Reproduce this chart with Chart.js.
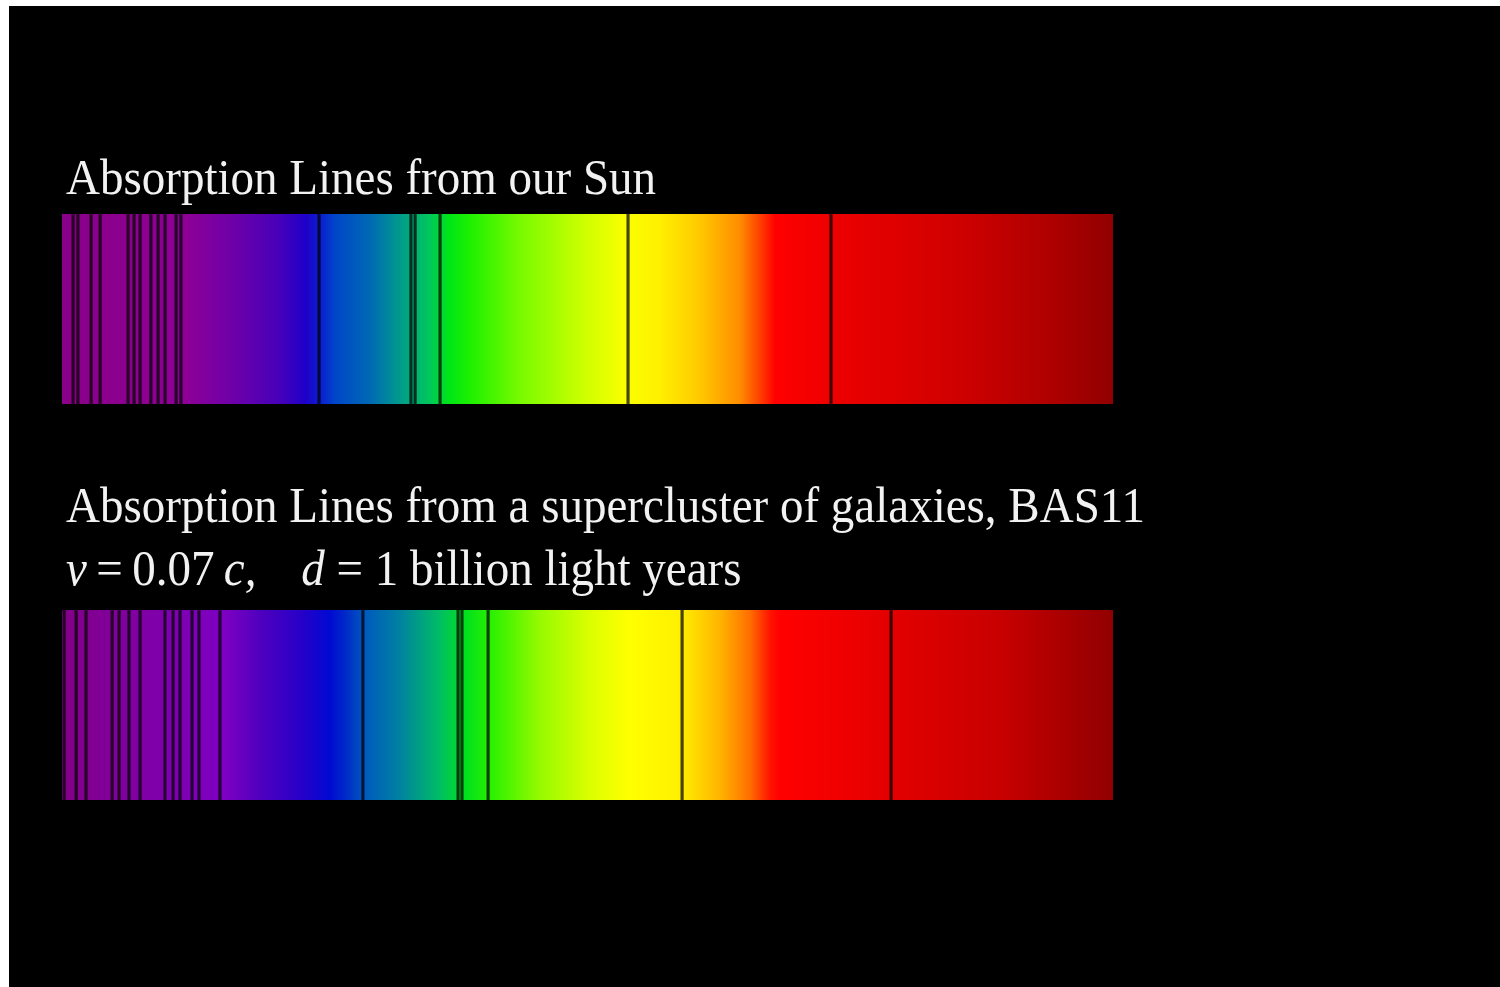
<!DOCTYPE html>
<html>
<head>
<meta charset="utf-8">
<script src="https://cdn.jsdelivr.net/npm/chart.js@4.4.1/dist/chart.umd.min.js"></script>
<style>
  html, body { margin: 0; padding: 0; background: #000; width: 1500px; height: 987px; overflow: hidden; }
  .edge { position: absolute; background: #fff; }
  .label { position: absolute; left: 66px; font-family: "Liberation Serif", "Times New Roman", serif;
           font-size: 47px; line-height: 47px; color: #f2f2f2; white-space: pre;
           transform: scaleY(1.07); transform-origin: 0 39px; }
  .spec { position: absolute; left: 62px; width: 1051px; }
</style>
</head>
<body>
<div class="edge" style="left:0;top:0;width:1500px;height:6px"></div>
<div class="edge" style="left:0;top:0;width:9px;height:987px"></div>

<div class="label" style="top:155px">Absorption Lines from our Sun</div>
<div class="label" style="top:483px">Absorption Lines from a supercluster of galaxies, BAS11</div>
<div class="label" style="top:546px"><i>v</i>&thinsp;=&thinsp;0.07&thinsp;<i>c,</i>&nbsp;&nbsp;&nbsp;&thinsp;<i>d</i> = 1 billion light years</div>

<div class="spec" style="top:214px;height:190px"><canvas id="sun"></canvas></div>
<div class="spec" style="top:610px;height:190px"><canvas id="bas11"></canvas></div>

<script>
// wavelength range shown by both strips (nm)
const rangeNm = [400, 750];

// absorption line positions (nm)
const sunLines = [403.7, 405.3, 409.7, 412.7, 422.0, 424.0, 426.0, 429.6, 432.0, 434.3, 438.0, 439.6,
                  485.6, 516.2, 517.6, 525.9, 588.5, 656.1];
const bas11Lines = [400.7, 404.7, 408.0, 416.7, 419.0, 422.3, 426.0, 434.3, 437.0, 439.3, 443.3, 445.6,
                    452.6, 500.2, 531.9, 533.2, 541.9, 606.5, 676.1];

// colour of each strip along the wavelength axis
const sunColours = [
  [400, 'rgb(138,0,136)'], [441, 'rgb(142,0,150)'], [456, 'rgb(112,0,168)'], [472.6, 'rgb(70,0,185)'],
  [481, 'rgb(30,0,200)'], [486, 'rgb(10,30,210)'], [491, 'rgb(0,70,200)'], [502.6, 'rgb(0,105,180)'],
  [512.6, 'rgb(0,155,140)'], [522.6, 'rgb(0,200,90)'], [529.2, 'rgb(0,230,20)'], [536, 'rgb(30,240,0)'],
  [552.5, 'rgb(120,250,0)'], [572.5, 'rgb(200,255,0)'], [587.5, 'rgb(250,255,0)'], [599, 'rgb(255,240,0)'],
  [612.5, 'rgb(255,200,0)'], [625.8, 'rgb(255,140,0)'], [633.5, 'rgb(255,50,0)'], [637.5, 'rgb(255,0,0)'],
  [659, 'rgb(235,0,0)'], [695.7, 'rgb(210,0,0)'], [729, 'rgb(175,0,0)'], [750, 'rgb(145,0,0)']
];
const bas11Colours = [
  [400, 'rgb(130,0,135)'], [454.3, 'rgb(125,0,195)'], [465.9, 'rgb(80,0,190)'], [479.3, 'rgb(40,0,200)'],
  [489.2, 'rgb(0,10,210)'], [494.2, 'rgb(0,40,200)'], [500.9, 'rgb(0,90,190)'], [512.6, 'rgb(0,130,160)'],
  [525.9, 'rgb(0,190,100)'], [534.2, 'rgb(0,225,30)'], [542.6, 'rgb(40,240,0)'], [559.2, 'rgb(150,250,0)'],
  [575.9, 'rgb(220,255,0)'], [589.1, 'rgb(255,255,0)'], [605.8, 'rgb(255,240,0)'], [619.1, 'rgb(255,180,0)'],
  [629.1, 'rgb(255,110,0)'], [635.8, 'rgb(255,20,0)'], [639.1, 'rgb(255,0,0)'], [672.4, 'rgb(230,0,0)'],
  [712.4, 'rgb(200,0,0)'], [750, 'rgb(145,0,0)']
];

const lineHalfWidth = 0.42; // nm

function spectrumGradient(colours) {
  return (ctx) => {
    const chart = ctx.chart;
    const area = chart.chartArea;
    if (!area) return null;
    const xs = chart.scales.x;
    const g = chart.ctx.createLinearGradient(area.left, 0, area.right, 0);
    colours.forEach(([nm, c]) => {
      const f = (xs.getPixelForValue(nm) - area.left) / (area.right - area.left);
      g.addColorStop(Math.min(1, Math.max(0, f)), c);
    });
    return g;
  };
}

function drawSpectrum(canvas, name, lines, colours) {
  new Chart(canvas.getContext('2d'), {
    type: 'bar',
    data: {
      labels: [name],
      datasets: [{
        data: [{ x: rangeNm, y: name }],
        backgroundColor: spectrumGradient(colours),
        grouped: false,
        order: 2
      }, {
        // each absorption line is a thin floating bar
        data: lines.map(nm => ({ x: [nm - lineHalfWidth, nm + lineHalfWidth], y: name })),
        backgroundColor: 'rgba(0,0,0,0.72)',
        grouped: false,
        order: 1
      }]
    },
    options: {
      indexAxis: 'y',
      responsive: true,
      maintainAspectRatio: false,
      animation: false,
      barPercentage: 1,
      categoryPercentage: 1,
      layout: { padding: 0 },
      datasets: { bar: { borderWidth: 0, borderSkipped: false } },
      scales: {
        x: { type: 'linear', min: rangeNm[0], max: rangeNm[1], display: false },
        y: { type: 'category', display: false }
      },
      plugins: { legend: { display: false }, tooltip: { enabled: false } }
    }
  });
}

drawSpectrum(document.getElementById('sun'), 'Sun', sunLines, sunColours);
drawSpectrum(document.getElementById('bas11'), 'BAS11', bas11Lines, bas11Colours);
</script>
</body>
</html>
